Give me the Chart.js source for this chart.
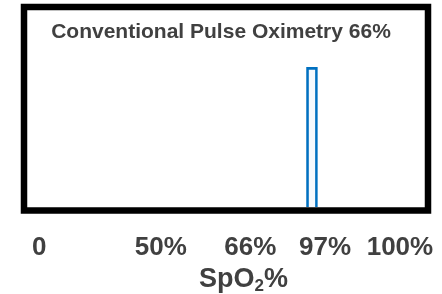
<!DOCTYPE html>
<html>
<head>
<meta charset="utf-8">
<script src="https://cdn.jsdelivr.net/npm/chart.js@4"></script>
<style>
  html, body { margin: 0; padding: 0; background: #fff; }
  #wrap { width: 442px; height: 294px; }
</style>
</head>
<body>
<div id="wrap"><canvas id="spo2"></canvas></div>
<script>
// reading shown as a single bar (axis is schematic, not proportional)
const readingPos = [71.6];
const readingHeight = [92];

// where the tick labels sit along the x axis, and what they say
const tickValues = [3.1, 33.6, 56.1, 74.9, 93.7];
const tickLabels = ["0", "50%", "66%", "97%", "100%"];

// axis title, with the 2 as a subscript
const axisTitle = ["SpO", "2", "%"];

const textColor = "#404040";
const fontFam = "'Liberation Sans', Arial, sans-serif";

// thick black frame round the title + plot
const frame = {
    id: "frame",
    afterDatasetsDraw(chart) {
        const a = chart.chartArea;
        const c = chart.ctx;
        c.save();
        c.strokeStyle = "#000";
        c.lineWidth = 6.5;
        c.strokeRect(a.left - 3, 7, a.right - a.left + 6, a.bottom + 3.5 - 7);
        c.restore();
    }
};

// x axis title drawn by hand so the subscript sits right
const subTitle = {
    id: "subTitle",
    afterDraw(chart) {
        const c = chart.ctx;
        const big = "bold 27px " + fontFam;
        const small = "bold 17px " + fontFam;
        c.save();
        c.fillStyle = textColor;
        c.textBaseline = "alphabetic";
        c.font = big;
        const w0 = c.measureText(axisTitle[0]).width;
        const w2 = c.measureText(axisTitle[2]).width;
        c.font = small;
        const w1 = c.measureText(axisTitle[1]).width;
        let x = 243.5 - (w0 + w1 + w2) / 2;
        const base = 286.5;
        c.font = big;
        c.fillText(axisTitle[0], x, base);
        x += w0;
        c.font = small;
        c.fillText(axisTitle[1], x, base + 4.5);
        x += w1;
        c.font = big;
        c.fillText(axisTitle[2], x, base);
        c.restore();
    }
};

const ctx = document.getElementById("spo2").getContext("2d");
const chart = new Chart(ctx, {
    type: "bar",
    data: {
        datasets: [{
            data: readingPos.map((x, i) => ({ x: x, y: readingHeight[i] })),
            backgroundColor: "rgba(0,112,192,0.04)",
            borderColor: "#0070C0",
            borderWidth: 2,
            barThickness: 11
        }]
    },
    options: {
        responsive: true,
        maintainAspectRatio: false,
        animation: false,
        layout: { padding: { top: 20, left: 17, right: 17, bottom: 2 } },
        plugins: {
            legend: { display: false },
            tooltip: { enabled: false },
            title: {
                display: true,
                text: "Conventional Pulse Oximetry 66%",
                color: textColor,
                font: { family: fontFam, size: 21, weight: "bold" },
                padding: { top: 0, bottom: 10 }
            }
        },
        scales: {
            x: {
                type: "linear",
                offset: false,
                min: 0,
                max: 100,
                grid: { display: false },
                border: { display: false },
                afterBuildTicks: s => { s.ticks = tickValues.map(v => ({ value: v })); },
                afterFit: s => {
                    s.height = 85;
                    s.paddingLeft = 0;
                    s.paddingRight = 0;
                },
                ticks: {
                    autoSkip: false,
                    maxRotation: 0,
                    padding: 17,
                    color: textColor,
                    font: { family: fontFam, size: 26, weight: "bold" },
                    callback: (v, i) => tickLabels[i]
                }
            },
            y: {
                min: 0,
                max: 100,
                grid: { display: false },
                border: { display: false },
                ticks: { display: false },
                afterFit: s => { s.width = 10; }
            }
        }
    },
    plugins: [frame, subTitle]
});
</script>
</body>
</html>
